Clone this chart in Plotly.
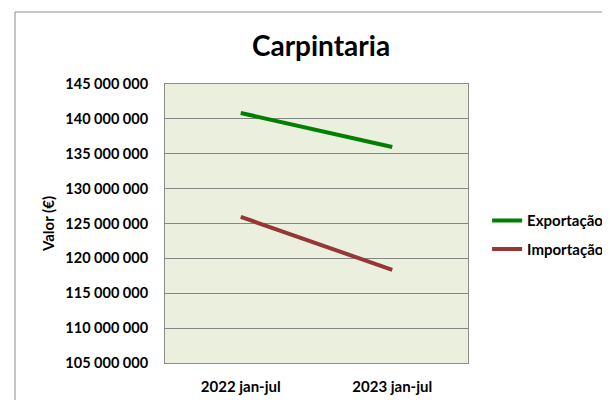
import plotly.graph_objects as go

categories = ["2022 jan-jul", "2023 jan-jul"]
exportacao = [140850000, 135970000]
importacao = [125950000, 118350000]
y_ticks = [105000000, 110000000, 115000000, 120000000, 125000000, 130000000, 135000000, 140000000, 145000000]

FONT = "Lato"
W, H = 602, 392
fig = go.Figure()
fig.add_trace(go.Scatter(x=categories, y=exportacao, mode="lines", name="Exportação",
                         line=dict(color="#008000", width=4), legendgroup="a"))
fig.add_trace(go.Scatter(x=categories, y=importacao, mode="lines", name="Importação",
                         line=dict(color="#953735", width=4), legendgroup="b"))

fig.update_layout(
    width=W, height=H,
    margin=dict(l=157, r=142, t=76, b=37, autoexpand=False),
    paper_bgcolor="white",
    plot_bgcolor="#EBF0DE",
    separators=". ",
    font=dict(family=FONT, color="black"),
    title=dict(text="Carpintaria", x=313 / W, xanchor="center", y=1 - 38 / H, yanchor="middle",
               font=dict(size=28, family=FONT, weight="bold", color="black")),
    xaxis=dict(type="category", range=[-0.5, 1.5], showgrid=False, zeroline=False, automargin=False,
               showline=True, linecolor="#8c8c8c", linewidth=1, mirror=True,
               ticks="", tickfont=dict(size=15, family=FONT, weight="bold"), ticklabelstandoff=10),
    yaxis=dict(range=[105000000, 145000000], tickvals=y_ticks, tickformat=",d", automargin=False,
               showgrid=True, gridcolor="#868686", gridwidth=1, zeroline=False,
               showline=True, linecolor="#8c8c8c", linewidth=1, mirror=True,
               ticks="", tickfont=dict(size=14.5, family=FONT, weight="bold"), ticklabelstandoff=13,
               title=dict(text="Valor (€)", font=dict(size=15, family=FONT, weight="bold"), standoff=7)),
    legend=dict(x=1.063, xanchor="left", y=0.46, yanchor="middle", bgcolor="rgba(0,0,0,0)",
                font=dict(size=15, family=FONT, weight="bold"), tracegroupgap=6,
                itemwidth=30),
    showlegend=True,
)

# outer chart frame
fig.add_shape(type="line", xref="paper", yref="paper", x0=(15 - 165) / 303, x1=(615 - 165) / 303,
              y0=(363 - 12) / 279, y1=(363 - 12) / 279, line=dict(color="#8c8c8c", width=1))
fig.add_shape(type="line", xref="paper", yref="paper", x0=(15 - 165) / 303, x1=(15 - 165) / 303,
              y0=(363 - 12) / 279, y1=(363 - 410) / 279, line=dict(color="#8c8c8c", width=1))

fig.write_html("out.html")
